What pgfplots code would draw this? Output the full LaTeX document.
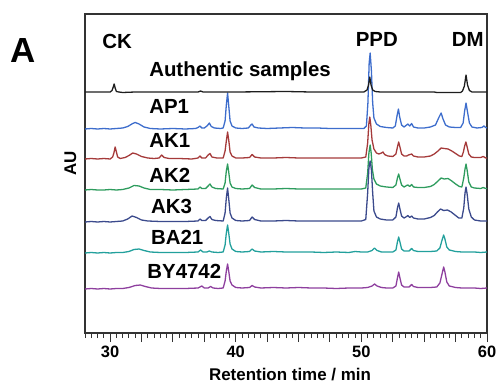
\documentclass[border=0pt]{standalone}
\usepackage{pgfplots}
\pgfplotsset{compat=1.18}
\usepackage{fontspec}
\setmainfont{Liberation Sans}
\definecolor{cBlack}{HTML}{1E1E1E}
\definecolor{cBlue}{HTML}{3D6DCC}
\definecolor{cRed}{HTML}{A53A3A}
\definecolor{cGreen}{HTML}{2E9C5E}
\definecolor{cNavy}{HTML}{3B4A8C}
\definecolor{cTeal}{HTML}{22A09C}
\definecolor{cPurple}{HTML}{8E3F9E}
\begin{document}
\begin{tikzpicture}
\path[use as bounding box] (-85bp,-50bp) rectangle (413bp,333bp);
\begin{axis}[at={(0,0)}, anchor=south west, scale only axis,
  width=402bp, height=319bp, xmin=28, xmax=60, ymin=0, ymax=319,
  clip=false,
  axis line style={line width=1.2pt, draw=black!80},
  xtick={30,32.5,...,60}, xticklabels={30,,,,40,,,,50,,,,60},
  minor xtick={28,28.5,...,60},
  tick align=outside, xtick pos=bottom, ytick=\empty,
  major tick length=9bp, minor tick length=5bp,
  every tick/.style={line width=1pt, black!80},
  /pgf/number format/assume math mode=true,
  xticklabel style={font=\bfseries\fontsize{16.5}{16.5}\selectfont},
  every axis plot/.append style={line width=1.3pt, line join=round, no markers},
]
% AP1
\addplot[cBlue] coordinates {(28,204) (28.5,204.5) (29,204) (29.5,204.5) (30,204) (30.5,204.5) (31,205) (31.4,206.5) (31.8,209.5) (32.0,210.5) (32.3,209) (32.7,206) (33.2,204.5) (34,204) (35,204.5) (36,204) (36.8,204.5) (37.0,205.5) (37.15,207) (37.3,205) (37.5,205) (37.75,207.5) (37.9,210) (38.05,206.5) (38.3,205) (38.8,204.5) (39.0,205) (39.15,212) (39.25,228) (39.35,240) (39.45,226) (39.55,212) (39.7,207) (40.0,205) (40.5,204.5) (41.0,205) (41.2,208) (41.3,209) (41.45,206) (41.8,205) (42.5,204.5) (43.5,205) (44.5,205.5) (45.5,205) (46.5,205) (47.5,204.5) (48.5,204.5) (49.5,204.5) (50.2,204.5) (50.4,207) (50.52,230) (50.62,270) (50.7,280) (50.8,262) (50.9,230) (51.0,215) (51.2,209) (51.5,206.5) (52.0,205.5) (52.5,205) (52.7,207) (52.85,218) (52.95,224) (53.05,216) (53.2,208) (53.4,206) (53.6,208) (53.7,209) (53.85,207) (54.0,209.5) (54.15,206) (54.5,205) (55.0,205) (55.5,206) (55.9,208) (56.15,215) (56.35,220) (56.5,214) (56.7,208) (57.0,206) (57.5,205.5) (57.9,205.5) (58.1,210) (58.22,222) (58.33,230) (58.45,221) (58.6,210) (58.8,206) (59.2,205) (59.6,205.5) (59.75,207) (59.9,205.5) (60,205)};
% AK1
\addplot[cRed] coordinates {(28,174) (28.5,174.5) (29,174) (29.5,174.5) (30.0,174) (30.2,176) (30.3,180) (30.4,186) (30.5,181) (30.6,176) (30.8,174.5) (31.2,175.5) (31.5,177.5) (31.8,180) (32.1,179) (32.5,176.5) (33,175) (33.5,174.5) (33.9,175) (34.1,178) (34.3,175.5) (34.7,174.5) (35.5,174.5) (36.5,174) (37.0,175) (37.15,177) (37.3,175) (37.6,175) (37.8,178) (37.95,179.5) (38.1,176) (38.5,175) (39.0,175) (39.15,182) (39.25,192) (39.35,201) (39.45,192) (39.55,181) (39.7,177) (40.0,175) (40.5,175) (41.1,175.5) (41.3,178.5) (41.5,176) (42,175) (43,175) (44,175.5) (45,175) (46,175) (47,175) (48,175) (49,175) (50,175) (50.35,176) (50.5,190) (50.6,210) (50.67,216) (50.75,208) (50.85,193) (51.0,184) (51.2,180) (51.4,179) (51.6,180) (51.72,181) (51.85,178.5) (52.1,177) (52.5,176.5) (52.75,179) (52.87,186) (52.97,191) (53.07,186) (53.2,179) (53.4,177) (53.6,177) (53.75,178) (54.0,179) (54.15,177) (54.5,176) (55.0,176) (55.5,177) (55.8,179) (56.1,182) (56.35,185) (56.6,184.5) (56.9,184) (57.2,182) (57.5,179.5) (57.8,177) (58.0,176.5) (58.12,181) (58.22,187) (58.32,191) (58.42,186) (58.55,179) (58.75,176) (59.0,175.5) (59.5,175.5) (59.7,176.5) (59.9,175) (60,175)};
% AK2
\addplot[cGreen] coordinates {(28,143) (28.5,143.5) (29,143) (29.5,143) (30,143.5) (30.5,143) (31,143.5) (31.5,145) (31.9,147.5) (32.3,147) (32.7,145) (33.2,143.5) (34,143.5) (35,143) (36,143.5) (37.0,144) (37.15,146) (37.3,144.5) (37.6,144.5) (37.8,147) (37.95,149) (38.1,146) (38.4,144.5) (39.0,144) (39.15,150) (39.25,162) (39.35,169) (39.45,160) (39.55,150) (39.7,146) (40.0,144.5) (40.5,144) (41.1,144.5) (41.3,148) (41.5,145.5) (42,144) (43,144) (44,144.5) (45,144) (46,144) (47,144) (48,144) (49,144) (50,144) (50.35,145) (50.5,160) (50.6,180) (50.7,188) (50.78,180) (50.88,163) (51.0,154) (51.2,149) (51.5,147) (52,146) (52.5,145.5) (52.75,148) (52.87,155) (52.97,159) (53.07,154) (53.2,148) (53.4,146) (53.6,147.5) (53.7,148) (53.85,146.5) (54.0,148.5) (54.15,146) (54.5,145.5) (55,145.5) (55.5,146.5) (55.8,148.5) (56.1,152) (56.35,155) (56.6,154) (56.9,154.5) (57.2,152) (57.5,149) (57.8,146.5) (58.0,146) (58.15,155) (58.25,164) (58.33,169) (58.43,162) (58.55,151) (58.75,146) (59.0,145) (59.5,144.5) (59.7,145.5) (59.9,144.5) (60,144.5)};
% AK3
\addplot[cNavy] coordinates {(28,111) (28.5,111.5) (29,111) (29.5,111.5) (30,111) (30.5,111.5) (31,112) (31.4,114) (31.75,117) (32.1,115.5) (32.5,113) (33,112) (34,111.5) (35,111.5) (36,111.5) (37.0,112) (37.15,114) (37.3,112.5) (37.6,112.5) (37.8,115) (37.95,116.5) (38.1,113.5) (38.4,112.5) (39.0,112) (39.15,120) (39.25,135) (39.35,145) (39.45,133) (39.55,120) (39.7,115) (40.0,112.5) (40.5,112) (41.1,112.5) (41.3,116) (41.5,113.5) (42,112) (43,112) (44,112.5) (45,112) (46,112) (47,112) (48,112) (49,112) (50,112) (50.35,113.5) (50.5,140) (50.6,165) (50.7,172) (50.8,163) (50.9,140) (51.0,122) (51.2,116) (51.5,114) (52,113) (52.5,113) (52.75,116) (52.87,125) (52.97,130) (53.07,124) (53.2,117) (53.4,115) (53.6,116.5) (53.7,117.5) (53.85,115.5) (54.0,117) (54.15,115) (54.5,114) (55,114) (55.5,115.5) (55.8,117.5) (56.05,121) (56.3,124) (56.55,122.5) (56.85,123) (57.15,121) (57.45,118) (57.75,115) (58.0,115) (58.15,125) (58.25,140) (58.33,146) (58.43,138) (58.55,124) (58.75,116) (59.0,113) (59.5,112) (60,112)};
% BA21
\addplot[cTeal] coordinates {(28,80) (28.5,80.5) (29,80) (29.5,80.5) (30,80) (30.5,80.5) (31,80.5) (31.5,81.5) (31.9,83.5) (32.3,84) (32.7,82.5) (33.2,81) (34,80.5) (35,80.5) (36,80.5) (37.0,81) (37.2,83) (37.4,81) (37.7,81) (37.9,82) (38.1,81) (38.6,80.5) (39.0,81) (39.15,88) (39.25,100) (39.35,108) (39.45,99) (39.55,89) (39.7,84) (40.0,81.5) (40.5,81) (41.1,81.5) (41.3,84) (41.5,82) (42,81) (43,81.5) (44,81) (45,81) (46,81) (47,80.5) (48,81) (49,80.5) (49.5,81.5) (50,81) (50.5,81) (50.85,82.5) (51.05,85) (51.25,82.5) (51.6,81) (52,81) (52.5,81) (52.75,83) (52.87,91) (52.97,96) (53.07,91) (53.2,84) (53.4,82) (53.8,82) (54.0,84.5) (54.15,82.5) (54.5,81.5) (55,81.5) (55.5,81.5) (56.0,82) (56.25,85) (56.4,92) (56.55,98) (56.65,94) (56.8,86) (57.0,83) (57.5,81.5) (58,81) (58.5,81) (59,81) (59.5,80.5) (60,81)};
% BY4742
\addplot[cPurple] coordinates {(28,44) (28.5,44.5) (29,44) (29.5,44.5) (30,44) (30.5,44.5) (31,44.5) (31.5,45.5) (32.0,47.5) (32.4,48) (32.8,46.5) (33.3,45) (34,44.5) (35,44.5) (36,44.5) (37.0,45) (37.3,47) (37.5,45) (37.8,45) (38.0,46.5) (38.2,45) (38.6,44.5) (39.0,45) (39.15,52) (39.25,62) (39.35,69) (39.45,61) (39.55,52) (39.7,48) (40.0,45.5) (40.5,45) (41.1,45.5) (41.3,47.5) (41.5,46) (42,45) (43,45.5) (44,45) (45,45.5) (46,45) (47,45) (48,44.5) (49,45) (50,45) (50.5,45.5) (50.85,47) (51.05,49) (51.25,47) (51.6,45.5) (52,45) (52.5,45) (52.75,47) (52.87,55) (52.97,61) (53.07,55) (53.2,48) (53.4,46) (53.8,46) (54.0,48.5) (54.15,46.5) (54.5,45.5) (55,45.5) (55.5,45.5) (56.0,46) (56.25,50) (56.4,58) (56.55,66) (56.65,61) (56.8,51) (57.0,47) (57.5,45.5) (58,45) (58.5,45) (59,45) (59.5,44.5) (60,45)};
% Authentic
\addplot[cBlack] coordinates {(28,241) (29.5,241) (30.0,241) (30.15,242.5) (30.25,246) (30.32,249) (30.4,245) (30.5,241.5) (30.7,241) (31,240.5) (32,241) (34,241) (36,241) (37.0,241) (37.2,242) (37.4,241) (38,241) (40,241) (44,241.5) (46,241) (50.2,241) (50.45,243) (50.57,248) (50.67,256) (50.77,248) (50.9,243) (51.1,241.5) (51.5,241) (53,241) (55,241) (55.8,241) (56.0,240.5) (57.9,240.5) (58.05,242) (58.2,247) (58.33,258) (58.45,248) (58.6,242.5) (58.8,241) (60,241)};
\begin{scope}[every node/.style={font=\bfseries\fontsize{20.5}{21}\selectfont, inner sep=0pt}]
\node[anchor=base] at (axis cs:30.55,284) {CK};
\node[anchor=base] at (axis cs:51.23,286) {PPD};
\node[anchor=base] at (axis cs:58.47,286) {DM};
\node[anchor=base west] at (axis cs:33.1,256) {Authentic samples};
\node[anchor=base west] at (axis cs:33.1,219) {AP1};
\node[anchor=base west] at (axis cs:33.1,185) {AK1};
\node[anchor=base west] at (axis cs:33.1,150) {AK2};
\node[anchor=base west] at (axis cs:33.25,119) {AK3};
\node[anchor=base west] at (axis cs:33.25,88) {BA21};
\node[anchor=base west] at (axis cs:32.95,55) {BY4742};
\end{scope}
\end{axis}
\node[anchor=base, font=\bfseries\fontsize{17}{17}\selectfont, inner sep=0pt] at (205bp,-47bp) {Retention time / min};
\node[anchor=base, rotate=90, font=\bfseries\fontsize{17}{17}\selectfont, inner sep=0pt] at (-9bp,170bp) {AU};
\node[anchor=base, font=\bfseries\fontsize{35}{35}\selectfont, inner sep=0pt] at (-61.5bp,270bp) {A};
\end{tikzpicture}
\end{document}
